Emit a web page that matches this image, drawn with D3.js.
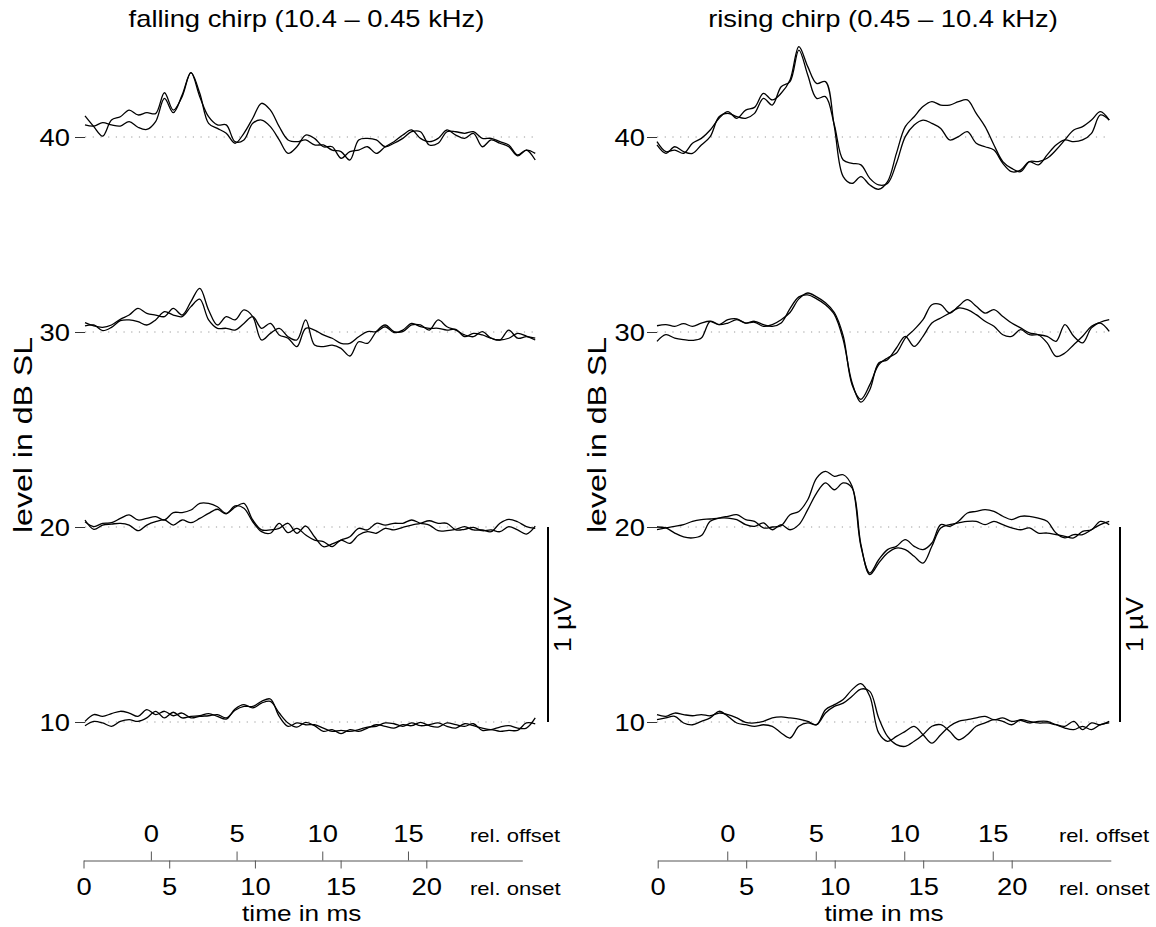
<!DOCTYPE html>
<html>
<head>
<meta charset="utf-8">
<script src="https://cdn.jsdelivr.net/npm/d3@7/dist/d3.min.js"></script>
<style>
  body { margin: 0; background: #fff; }
  svg { font-family: "Liberation Sans", Arial, Helvetica, sans-serif; }
</style>
</head>
<body>
<svg id="chart" width="1156" height="927"></svg>
<script>
// stimulus levels (dB SL) and sampling grid of the averaged responses (ms after onset)
const levels = [40, 30, 20, 10];
const sampleTimes = d3.range(0, 26, 0.5);
const recordLength = 25.6;
const offsetDelay = 3.93;          // chirp offset relative to onset, ms
const onsetTicks = [0, 5, 10, 15, 20];
const offsetTicks = [0, 5, 10, 15];

// falling chirp (10.4 - 0.45 kHz), two runs per level, amplitude in µV
const fall40a = [0.108,0.053,0.005,0.087,0.104,0.138,0.113,0.125,0.12,0.227,0.138,0.207,0.33,0.224,0.07,0.044,0.019,-0.032,0.019,0.096,0.173,0.138,0.053,-0.015,-0.024,-0.015,-0.041,-0.041,-0.067,-0.075,-0.118,-0.015,-0.007,-0.015,-0.05,-0.032,-0.007,0.027,0.027,-0.041,-0.032,0.027,0.027,0.019,0.027,-0.007,-0.007,-0.024,-0.041,-0.092,-0.067,-0.118];
const fall40b = [0.062,0.056,0.074,0.062,0.056,0.079,0.05,0.039,0.079,0.198,0.125,0.215,0.33,0.207,0.104,0.062,0.062,-0.024,-0.015,0.07,0.087,0.053,-0.015,-0.084,-0.05,0.01,-0.007,-0.05,-0.05,-0.109,-0.075,-0.067,-0.05,-0.084,-0.05,-0.024,0.01,0.036,-0.007,-0.024,-0.007,0.036,0.01,-0.007,0.019,-0.05,-0.015,-0.032,-0.05,-0.097,-0.067,-0.084];
const fall30a = [0.048,0.031,0.024,0.036,0.065,0.087,0.121,0.096,0.087,0.079,0.121,0.087,0.156,0.224,0.113,0.036,0.079,0.062,0.113,0.079,-0.041,-0.007,0.019,-0.024,-0.041,0.062,-0.067,-0.075,-0.067,-0.084,-0.123,-0.05,-0.058,0.002,0.036,0.002,0.002,0.036,0.036,0.01,0.062,0.027,0.01,-0.015,-0.024,0.002,-0.032,-0.041,-0.032,-0.007,-0.021,-0.041];
const fall30b = [0.031,0.036,0.007,0.024,0.058,0.062,0.053,0.036,0.062,0.104,0.087,0.079,0.13,0.168,0.062,0.019,0.019,0.01,0.044,0.079,0.019,0.044,-0.015,-0.032,-0.075,0.019,0.01,-0.015,-0.032,-0.058,-0.058,-0.024,0.002,0.002,0.027,-0.003,0.01,0.044,0.027,0.019,0.019,0.01,0.014,-0.024,-0.007,-0.015,-0.032,-0.041,0.01,-0.032,-0.024,-0.032];
const fall20a = [0.027,0.002,0.019,0.022,0.044,0.062,0.036,0.044,0.053,0.036,0.074,0.074,0.087,0.121,0.121,0.104,0.07,0.101,0.121,0.036,-0.015,-0.015,-0.007,0.019,-0.032,0.005,-0.05,-0.101,-0.087,-0.067,-0.05,-0.007,-0.015,0.019,0.01,0.019,0.019,0.036,0.019,0.01,-0.019,-0.019,-0.012,0.002,-0.015,-0.015,-0.024,0.019,0.039,0.027,0.002,-0.007];
const fall20b = [0.036,-0.012,0.01,0.015,0.019,0.01,-0.019,0.01,0.027,0.036,0.01,0.036,0.022,0.044,0.07,0.091,0.067,0.108,0.096,0.027,-0.024,-0.032,0.019,-0.029,-0.007,-0.041,-0.067,-0.075,-0.101,-0.067,-0.084,-0.041,-0.024,-0.032,-0.007,-0.015,-0.002,0.01,0.019,0.032,0.019,0.019,-0.015,-0.012,-0.002,-0.019,-0.015,-0.024,0.002,-0.015,-0.036,0.005];
const fall10a = [0.003,0.038,0.029,0.043,0.055,0.046,0.029,0.063,0.038,0.055,0.032,0.046,0.021,0.029,0.032,0.038,0.021,0.06,0.08,0.08,0.106,0.118,0.029,-0.022,-0.005,-0.014,-0.014,-0.031,-0.048,-0.043,-0.048,-0.039,-0.026,-0.022,-0.005,-0.009,-0.022,-0.005,-0.019,-0.014,-0.005,-0.022,-0.031,-0.009,-0.019,-0.031,-0.039,-0.026,-0.019,-0.031,-0.031,0.021];
const fall10b = [-0.019,0.003,-0.005,-0.022,0.003,0.012,0.003,0.021,0.055,0.021,0.05,0.021,0.029,0.032,0.043,0.029,0.015,0.067,0.089,0.072,0.097,0.106,0.046,-0.005,-0.026,-0.002,-0.019,-0.048,-0.039,-0.06,-0.039,-0.048,-0.031,-0.014,-0.022,-0.031,-0.014,-0.019,-0.002,-0.019,-0.026,-0.005,-0.014,-0.022,-0.009,-0.043,-0.039,-0.048,-0.043,-0.043,-0.005,-0.009];

// rising chirp (0.45 - 10.4 kHz)
const rise40a = [-0.024,-0.075,-0.067,-0.084,-0.032,-0.007,0.036,0.096,0.13,0.096,0.138,0.152,0.224,0.19,0.224,0.292,0.463,0.361,0.275,0.284,0.053,-0.203,-0.238,-0.203,-0.246,-0.268,-0.229,-0.084,0.053,0.104,0.156,0.181,0.164,0.164,0.181,0.19,0.121,0.053,-0.041,-0.126,-0.161,-0.178,-0.126,-0.126,-0.109,-0.067,-0.015,0.036,0.053,0.087,0.13,0.087];
const rise40b = [-0.041,-0.084,-0.05,-0.075,-0.084,-0.041,0.002,0.104,0.121,0.104,0.096,0.121,0.198,0.164,0.258,0.284,0.446,0.318,0.198,0.207,0.062,-0.118,-0.135,-0.143,-0.212,-0.246,-0.238,-0.135,0.002,0.062,0.087,0.07,0.044,-0.015,0.002,0.027,-0.032,-0.05,-0.067,-0.135,-0.178,-0.17,-0.126,-0.143,-0.092,-0.041,-0.015,-0.024,-0.015,0.019,0.113,0.087];
const rise30a = [0.032,0.038,0.029,0.043,0.029,0.046,0.055,0.038,0.063,0.067,0.046,0.05,0.029,0.038,0.063,0.1,0.17,0.2,0.18,0.15,0.1,-0.02,-0.27,-0.345,-0.27,-0.168,-0.133,-0.108,-0.031,0.012,0.063,0.14,0.14,0.097,0.132,0.166,0.132,0.097,0.115,0.08,0.046,0.021,-0.005,-0.014,-0.056,-0.125,-0.108,-0.065,-0.022,0.029,0.05,0.063];
const rise30b = [-0.048,-0.014,-0.031,-0.039,-0.043,-0.031,0.055,0.038,0.046,0.063,0.046,0.055,0.038,0.029,0.046,0.12,0.18,0.19,0.17,0.14,0.09,-0.04,-0.26,-0.36,-0.296,-0.159,-0.142,-0.082,-0.022,-0.074,-0.022,0.046,0.072,0.097,0.123,0.115,0.089,0.055,0.029,-0.014,-0.022,0.012,-0.014,-0.014,-0.022,-0.048,0.038,-0.022,-0.056,0.021,0.046,0.003];
const rise20a = [0,-0.005,-0.031,-0.051,-0.056,-0.044,0.029,0.046,0.055,0.063,0.038,0.029,-0.005,0,0.007,0.063,0.08,0.14,0.251,0.285,0.26,0.268,0.209,-0.1,-0.236,-0.168,-0.116,-0.099,-0.065,-0.099,-0.116,-0.082,0.012,0.003,0.029,0.072,0.08,0.089,0.08,0.055,0.038,0.055,0.055,0.046,0.029,-0.031,-0.056,-0.039,-0.039,-0.014,0.012,0.029];
const rise20b = [-0.014,-0.005,0.003,0.012,0.029,0.038,0.041,0.046,0.046,0.038,0.012,0.003,0.021,-0.014,0.012,-0.014,0.012,0.089,0.174,0.226,0.191,0.226,0.2,-0.09,-0.244,-0.185,-0.133,-0.108,-0.116,-0.15,-0.185,-0.099,-0.005,0.012,0.021,0.029,0.029,0.012,0.029,0.012,-0.005,-0.014,-0.005,-0.031,-0.031,-0.039,-0.048,-0.056,-0.022,-0.014,0.029,0.012];
const rise10a = [0.038,0.029,0.046,0.038,0.032,0.038,0.032,0.046,0.038,0.021,-0.002,-0.005,0.003,0.021,0.026,0.021,0.015,0.003,-0.014,0.063,0.089,0.115,0.166,0.197,0.132,-0.056,-0.099,-0.074,-0.048,-0.022,-0.065,-0.108,-0.065,-0.022,0.003,0.012,0.021,0.029,0.012,0.021,0.003,0.009,-0.005,0.003,0.003,-0.014,-0.031,-0.039,-0.022,-0.039,-0.014,-0.005];
const rise10b = [0.012,0.021,0.029,-0.005,-0.014,0.003,0.021,0.055,0.029,-0.005,-0.014,-0.022,-0.014,-0.022,-0.056,-0.082,-0.022,-0.005,-0.014,0.046,0.08,0.097,0.132,0.169,0.157,0.021,-0.074,-0.116,-0.125,-0.099,-0.065,-0.022,-0.014,-0.048,-0.091,-0.065,-0.022,-0.005,0.012,0.003,-0.014,0.012,0.003,-0.005,-0.005,-0.014,-0.022,0.003,-0.039,-0.005,-0.014,0.003];

const SX = 1.19;          // the lettering of the original is stretched horizontally
const FONT = 23;
const DB_PER_UV = 10;     // 1 µV is drawn as high as 10 dB on the level axis
const AXIS_Y = 860.5;

const svg = d3.select("#chart");

const yLevel = d3.scaleLinear().domain([10, 40]).range([722, 137]);

const panels = [
  {
    title: "falling chirp (10.4 \u2013 0.45 kHz)",
    runs: { 40: [fall40a, fall40b], 30: [fall30a, fall30b], 20: [fall20a, fall20b], 10: [fall10a, fall10b] },
    traceX: [85, 537], axisX: [83.5, 522.3],
    titleX: 306.5, ylabelX: 31.5, tickPad: 15, barX: 548, relX: 470, timeX: 301.7
  },
  {
    title: "rising chirp (0.45 \u2013 10.4 kHz)",
    runs: { 40: [rise40a, rise40b], 30: [rise30a, rise30b], 20: [rise20a, rise20b], 10: [rise10a, rise10b] },
    traceX: [657, 1111], axisX: [657.7, 1110.8],
    titleX: 883, ylabelX: 606, tickPad: 12, barX: 1120, relX: 1059, timeX: 884
  }
];

function addText(parent, x, y, str, size, anchor = "middle") {
  return parent.append("text")
    .attr("transform", `translate(${x},${y}) scale(${SX},1)`)
    .attr("text-anchor", anchor)
    .attr("font-size", size)
    .attr("fill", "#000")
    .text(str);
}

panels.forEach(p => {
  const g = svg.append("g");
  const xTrace = d3.scaleLinear().domain([0, recordLength]).range(p.traceX);

  addText(g, p.titleX, 27, p.title, FONT);

  // level axis on the left of each panel
  const yAxis = g.append("g")
    .attr("transform", `translate(${p.traceX[0]},0)`)
    .call(d3.axisLeft(yLevel).tickValues(levels).tickSize(10).tickFormat(d3.format("d")));
  yAxis.select(".domain").remove();
  yAxis.selectAll(".tick line").attr("stroke", "#333");
  yAxis.selectAll(".tick text")
    .attr("x", 0).attr("dy", "0.36em")
    .attr("font-size", FONT).attr("font-family", null).attr("fill", "#000")
    .attr("transform", `translate(${-p.tickPad},0) scale(${SX},1)`);

  g.append("text")
    .attr("transform", `translate(${p.ylabelX},435) rotate(-90)`)
    .attr("text-anchor", "middle")
    .attr("font-size", 26)
    .attr("textLength", 196)
    .attr("lengthAdjust", "spacingAndGlyphs")
    .text("level in dB SL");

  // dotted zero line for each level
  g.selectAll(".base")
    .data(levels)
    .join("line")
    .attr("x1", p.traceX[0]).attr("x2", p.traceX[1])
    .attr("y1", d => yLevel(d)).attr("y2", d => yLevel(d))
    .attr("stroke", "#999").attr("stroke-width", 1)
    .attr("stroke-dasharray", "1.2,6.5");

  // averaged responses
  levels.forEach(level => {
    const line = d3.line()
      .x((d, i) => xTrace(sampleTimes[i]))
      .y(d => yLevel(level + d * DB_PER_UV))
      .curve(d3.curveCatmullRom.alpha(0.5));
    g.selectAll(null)
      .data(p.runs[level])
      .join("path")
      .attr("d", line)
      .attr("fill", "none")
      .attr("stroke", "#000")
      .attr("stroke-width", 1.3)
      .attr("stroke-linejoin", "round");
  });

  // 1 µV calibration bar
  g.append("line")
    .attr("x1", p.barX).attr("x2", p.barX)
    .attr("y1", yLevel(10)).attr("y2", yLevel(10 + DB_PER_UV))
    .attr("stroke", "#000").attr("stroke-width", 2);
  g.append("text")
    .attr("transform", `translate(${p.barX + 22.5},${(yLevel(10) + yLevel(20)) / 2}) rotate(-90)`)
    .attr("text-anchor", "middle")
    .attr("font-size", 24)
    .attr("textLength", 55)
    .attr("lengthAdjust", "spacingAndGlyphs")
    .text("1 \u00b5V");

  // time axes: onset below the line, offset above it
  const onset = d3.scaleLinear().domain([0, recordLength]).range(p.axisX);
  const offset = d3.scaleLinear().domain([-offsetDelay, recordLength - offsetDelay]).range(p.axisX);

  const onsetAxis = g.append("g")
    .attr("transform", `translate(0,${AXIS_Y})`)
    .call(d3.axisBottom(onset).tickValues(onsetTicks).tickSize(8).tickSizeOuter(0).tickPadding(10));
  const offsetAxis = g.append("g")
    .attr("transform", `translate(0,${AXIS_Y})`)
    .call(d3.axisTop(offset).tickValues(offsetTicks).tickSize(9).tickPadding(10));
  offsetAxis.select(".domain").remove();

  [onsetAxis, offsetAxis].forEach(ax => {
    ax.select(".domain").attr("stroke", "#555");
    ax.selectAll(".tick line").attr("stroke", "#555");
    ax.selectAll(".tick text")
      .attr("font-size", FONT).attr("font-family", null).attr("fill", "#000")
      .attr("transform", `scale(${SX},1)`);
  });

  addText(g, p.relX, 841.5, "rel. offset", 18.5, "start");
  addText(g, p.relX, 895, "rel. onset", 18.5, "start");
  addText(g, p.timeX, 920.5, "time in ms", 22);
});
</script>
</body>
</html>
